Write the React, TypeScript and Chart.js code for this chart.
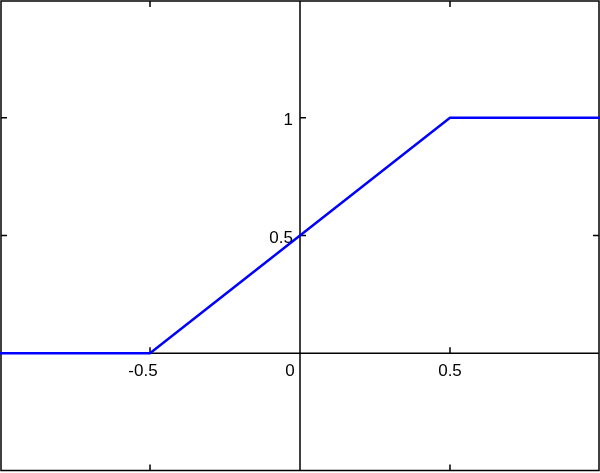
import React, { useEffect, useRef } from "react";
import { Chart, registerables } from "chart.js";

Chart.register(...registerables);

const xValues = [-1, -0.5, 0.5, 1];
const yValues = [0, 0, 1, 1];
const xRange = [-1, 1];
const yRange = [-0.5, 1.5];
const xTicks = [-0.5, 0, 0.5];
const xTickLabels = ["-0.5", "0", "0.5"];
const yTicks = [0.5, 1];
const yTickLabels = ["0.5", "1"];
const frameXTicks = [-0.5, 0, 0.5];
const frameYTicks = [0.5, 1];

const axesPlugin = {
  id: "centerAxes",
  beforeDatasetsDraw(chart: any) {
    const { ctx, chartArea, scales } = chart;
    const xs = scales.x;
    const ys = scales.y;
    const x0 = xs.getPixelForValue(0);
    const y0 = ys.getPixelForValue(0);
    const L = chartArea.left + 1;
    const R = chartArea.right - 1;
    const T = chartArea.top + 1;
    const B = chartArea.bottom - 0.5;
    ctx.save();
    ctx.strokeStyle = "#000";
    ctx.lineWidth = 1.5;
    // frame
    ctx.strokeRect(L, T, R - L, B - T);
    ctx.beginPath();
    // center axes
    ctx.moveTo(L, y0);
    ctx.lineTo(R, y0);
    ctx.moveTo(x0, T);
    ctx.lineTo(x0, B);
    const tl = 6;
    // frame ticks
    frameXTicks.forEach((v) => {
      const px = xs.getPixelForValue(v);
      ctx.moveTo(px, T);
      ctx.lineTo(px, T + tl);
      ctx.moveTo(px, B);
      ctx.lineTo(px, B - tl);
    });
    frameYTicks.forEach((v) => {
      const py = ys.getPixelForValue(v);
      ctx.moveTo(L, py);
      ctx.lineTo(L + tl, py);
      ctx.moveTo(R, py);
      ctx.lineTo(R - tl, py);
    });
    // axis ticks
    xTicks.forEach((v) => {
      if (v === 0) return;
      const px = xs.getPixelForValue(v);
      ctx.moveTo(px, y0);
      ctx.lineTo(px, y0 - tl);
    });
    yTicks.forEach((v) => {
      const py = ys.getPixelForValue(v);
      ctx.moveTo(x0, py);
      ctx.lineTo(x0 + tl, py);
    });
    ctx.stroke();

    // labels
    ctx.fillStyle = "#000";
    ctx.font = "17px 'Liberation Sans', Arial, sans-serif";
    ctx.textBaseline = "alphabetic";
    ctx.textAlign = "center";
    xTicks.forEach((v, i) => {
      const px = xs.getPixelForValue(v);
      const off = v < 0 ? -7 : v === 0 ? -10 : 0;
      ctx.fillText(xTickLabels[i], px + off, y0 + 23);
    });
    ctx.textAlign = "right";
    yTicks.forEach((v, i) => {
      const py = ys.getPixelForValue(v);
      ctx.fillText(yTickLabels[i], x0 - 7, py + 7);
    });
    ctx.restore();
  },
};

export default function App() {
  const ref = useRef<HTMLCanvasElement>(null);
  useEffect(() => {
    if (!ref.current) return;
    const chart = new Chart(ref.current, {
      type: "line",
      data: {
        datasets: [
          {
            data: xValues.map((x, i) => ({ x, y: yValues[i] })),
            borderColor: "#0000ff",
            borderWidth: 2.5,
            pointRadius: 0,
            fill: false,
            tension: 0,
          },
        ],
      },
      options: {
        animation: false,
        responsive: false,
        devicePixelRatio: 1,
        layout: { padding: { left: 0, right: 0, top: 0, bottom: 2 } },
        plugins: { legend: { display: false }, tooltip: { enabled: false } },
        scales: {
          x: { type: "linear", min: xRange[0], max: xRange[1], display: false },
          y: { type: "linear", min: yRange[0], max: yRange[1], display: false },
        },
      },
      plugins: [axesPlugin],
    });
    return () => chart.destroy();
  }, []);
  return (
    <div style={{ position: "absolute", left: 0, top: 0, width: 600, height: 473, background: "#fff" }}>
      <canvas ref={ref} width={600} height={473} />
    </div>
  );
}
